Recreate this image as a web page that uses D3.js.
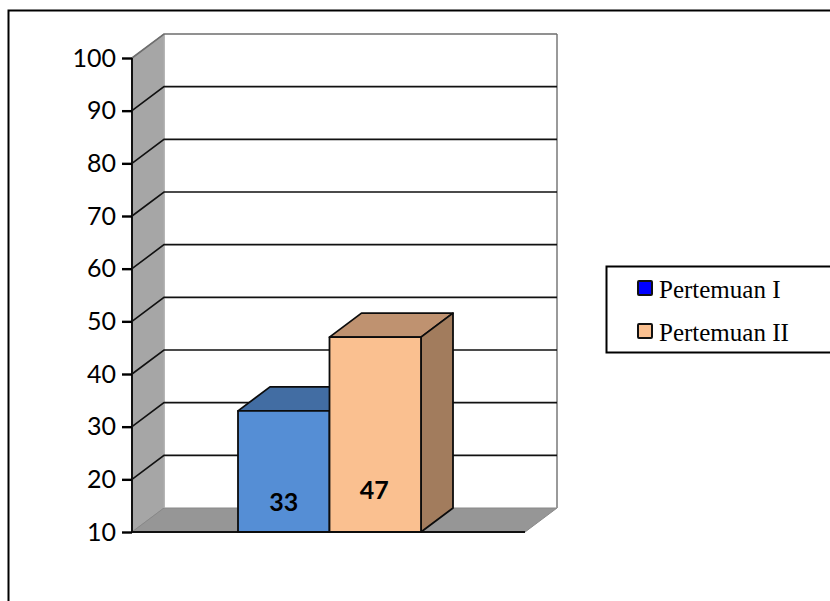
<!DOCTYPE html>
<html><head><meta charset="utf-8">
<style>html,body{margin:0;padding:0;background:#fff;overflow:hidden}svg{display:block}</style>
<script src="https://cdnjs.cloudflare.com/ajax/libs/d3/7.8.5/d3.min.js"></script>
</head><body><div id="c"></div>
<script>
const seriesNames = ["Pertemuan I", "Pertemuan II"];
const seriesValues = [33, 47];
const barColors = ["#558ed5", "#fac090"];
const topColors = ["#426da3", "#bf9270"];
const sideColors = ["#426da3", "#a27c5d"];
const legendColors = ["#0000ff", "#fac090"];
const tickValues = [10, 20, 30, 40, 50, 60, 70, 80, 90, 100];

const svg = d3.select("#c").append("svg").attr("width", 830).attr("height", 601);
const y = d3.scaleLinear().domain([10, 100]).range([532, 58]);
const x = d3.scaleBand().domain(seriesNames).range([238, 421]).padding(0);
const dx = 32, dy = -24, left = 132, right = 525;
const pts = a => a.map(p => p.join(",")).join(" ");

// outer frame
svg.append("path").attr("d", "M8.5,605V10.5H835").attr("fill", "none").attr("stroke", "#000").attr("stroke-width", 2);

// walls
svg.append("polygon").attr("points", pts([[left, y(10)], [left + dx, y(10) + dy], [left + dx, y(100) + dy], [left, y(100)]]))
  .attr("fill", "#a6a6a6").attr("stroke", "#8c8c8c").attr("stroke-width", 1);
svg.append("polygon").attr("points", pts([[left, y(10)], [left + dx, y(10) + dy], [right + dx, y(10) + dy], [right, y(10)]]))
  .attr("fill", "#969696").attr("stroke", "#888").attr("stroke-width", 1);
svg.append("path").attr("d", `M${left + dx},${y(100) + dy}V${y(10) + dy}`).attr("stroke", "#b0b0b0").attr("stroke-width", 1.5);
svg.append("path").attr("d", `M${right + dx},${y(100) + dy}V${y(10) + dy}`).attr("stroke", "#9a9a9a").attr("stroke-width", 2);

// gridlines
tickValues.filter(v => v > 10).forEach(v => {
  const c = v === 100 ? "#6e6e6e" : "#111";
  svg.append("path").attr("fill", "none").attr("stroke", c).attr("stroke-width", 1.6)
    .attr("d", `M${left},${y(v)}L${left + dx},${y(v) + dy}H${right + dx}`);
});

// axis
const axis = d3.axisLeft(y).tickValues(tickValues).tickSize(10).tickPadding(6).tickFormat(d3.format("d"));
const ag = svg.append("g").attr("transform", `translate(${left},0)`).call(axis);
ag.selectAll("path.domain").attr("stroke", "#111").attr("stroke-width", 2).attr("d", `M0,${y(100)}V${y(10)}`);
ag.selectAll(".tick line").attr("stroke", "#000").attr("stroke-width", 2.4);
ag.selectAll("text").attr("font-family", "Lato, 'Open Sans', sans-serif").attr("font-size", 25).attr("fill", "#000");

// baseline
svg.append("path").attr("d", `M${left},${y(10)}H${right}`).attr("stroke", "#111").attr("stroke-width", 2);

// bars
const labelY = [511, 499];
seriesNames.forEach((name, i) => {
  const g = svg.append("g").attr("stroke", "#0c0c0c").attr("stroke-width", 1.8).attr("stroke-linejoin", "round");
  const x0 = x(name), x1 = x0 + x.bandwidth(), t = y(seriesValues[i]), b = y(10);
  g.append("polygon").attr("points", pts([[x0, t], [x0 + dx, t + dy], [x1 + dx, t + dy], [x1, t]])).attr("fill", topColors[i]);
  g.append("polygon").attr("points", pts([[x1, t], [x1 + dx, t + dy], [x1 + dx, b + dy], [x1, b]])).attr("fill", sideColors[i]);
  g.append("rect").attr("x", x0).attr("y", t).attr("width", x.bandwidth()).attr("height", b - t).attr("fill", barColors[i]);
});
seriesNames.forEach((name, i) => {
  svg.append("text").attr("x", x(name) + x.bandwidth() / 2 - (i ? 1 : 0)).attr("y", labelY[i])
    .attr("text-anchor", "middle").attr("font-family", "Lato, 'Open Sans', sans-serif")
    .attr("font-weight", 700).attr("font-size", 25).attr("fill", "#000").text(seriesValues[i]);
});

// legend
svg.append("rect").attr("x", 606.5).attr("y", 266.5).attr("width", 240).attr("height", 86)
  .attr("fill", "#fff").attr("stroke", "#000").attr("stroke-width", 2);
const swatchY = [281, 324], textY = [298, 341];
seriesNames.forEach((name, i) => {
  svg.append("rect").attr("x", 638).attr("y", swatchY[i]).attr("width", 14).attr("height", 14)
    .attr("fill", legendColors[i]).attr("stroke", "#111").attr("stroke-width", 2).attr("rx", 1);
  svg.append("text").attr("x", 659).attr("y", textY[i]).attr("font-family", "'Liberation Serif', serif")
    .attr("font-size", 25).attr("fill", "#000").text(name);
});
</script></body></html>
